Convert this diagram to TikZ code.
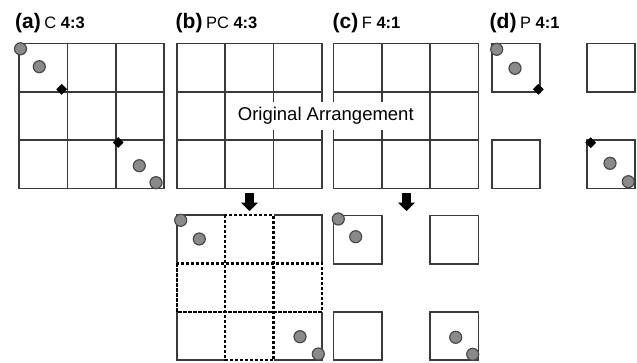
\documentclass[tikz,border=0pt]{standalone}
\usepackage{fontspec}
\setmainfont{Liberation Sans}
\usetikzlibrary{arrows.meta,shapes.geometric}
\definecolor{linegray}{HTML}{3A3A3A}
\definecolor{dotgray}{HTML}{8A8A8A}
\definecolor{dotedge}{HTML}{4A4A4A}
\begin{document}
\begin{tikzpicture}[x=1pt,y=-1pt,
  gridline/.style={draw=linegray, line width=1.6pt},
  dashline/.style={draw=black, line width=2.3pt, dash pattern=on 3.2pt off 1.8pt},
  dot/.style={circle, fill=dotgray, draw=dotedge, line width=1.2pt, minimum size=12pt, inner sep=0pt},
  gem/.style={diamond, fill=black, minimum size=11pt, inner sep=0pt},
  panel/.style={anchor=base west, inner sep=0pt},
  blockarrow/.style={line width=9.5pt, -{Triangle[width=17pt,length=8.5pt]}}
]
\useasboundingbox (0,0) rectangle (637,362);
\def\cs{48.4}
% three-by-three grid with top-left corner at (#1,#2)
\newcommand\cellgrid[2]{%
  \foreach \k in {0,1,2,3}{%
    \draw[gridline] ({#1+\k*\cs},#2) -- ({#1+\k*\cs},{#2+3*\cs});
    \draw[gridline] (#1,{#2+\k*\cs}) -- ({#1+3*\cs},{#2+\k*\cs});
  }}
% single square cell with top-left corner at (#1,#2)
\newcommand\onecell[2]{\draw[gridline] (#1,#2) rectangle ({#1+\cs},{#2+\cs});}

% panel titles
\node[panel] (ta) at (15,28) {\fontsize{21}{21}\selectfont\bfseries (a)\,\fontsize{16.5}{16.5}\selectfont\mdseries C \bfseries 4:3};
\node[panel] (tb) at (175.5,28) {\fontsize{21}{21}\selectfont\bfseries (b)\,\fontsize{16.5}{16.5}\selectfont\mdseries PC \bfseries 4:3};
\node[panel] (tc) at (332.5,28) {\fontsize{21}{21}\selectfont\bfseries (c)\,\fontsize{16.5}{16.5}\selectfont\mdseries F \bfseries 4:1};
\node[panel] (td) at (489.5,28) {\fontsize{21}{21}\selectfont\bfseries (d)\,\fontsize{16.5}{16.5}\selectfont\mdseries P \bfseries 4:1};

% (a) contiguous
\cellgrid{19}{43.3}
\node[dot] (a1) at (20.5,48.8) {};
\node[dot] (a2) at (39.3,66.7) {};
\node[gem] (a3) at (61.7,89.3) {};
\node[gem] (a4) at (118.3,142.5) {};
\node[dot] (a5) at (139.3,165.7) {};
\node[dot] (a6) at (156,182.7) {};

% (b) and (c) original arrangements
\cellgrid{176.7}{43.3}
\cellgrid{333.3}{43.3}
\node[fill=white, inner xsep=2pt, inner ysep=5pt, font=\fontsize{18.5}{18.5}\selectfont] (orig) at (325.8,116) {Original Arrangement};

% (d) separated cells
\onecell{491.7}{43.3}
\onecell{586.7}{43.3}
\onecell{491.7}{140}
\onecell{586.7}{140}
\node[dot] (d1) at (496.7,49.3) {};
\node[dot] (d2) at (515,68.3) {};
\node[gem] (d3) at (538.3,89.3) {};
\node[gem] (d4) at (590.7,142.7) {};
\node[dot] (d5) at (610,163.3) {};
\node[dot] (d6) at (628.3,181.7) {};

% arrows to the rearranged layouts
\coordinate (bs) at (249.5,192.5);
\coordinate (be) at (249.5,211);
\coordinate (cs) at (406.5,192.5);
\coordinate (ce) at (406.5,211);
\draw[blockarrow] (bs) -- (be);
\draw[blockarrow] (cs) -- (ce);

% (b) rearranged: outer edges of the corner cells solid, middle cross dashed
\draw[gridline] (225.1,215) -- (176.7,215) -- (176.7,263.4);
\draw[gridline] (273.5,215) -- (321.9,215) -- (321.9,263.4);
\draw[gridline] (176.7,311.8) -- (176.7,360.2) -- (225.1,360.2);
\draw[gridline] (273.5,360.2) -- (321.9,360.2) -- (321.9,311.8);
\draw[dashline] (176.7,263.4) rectangle (321.9,311.8);
\draw[dashline] (225.1,215) rectangle (273.5,360.2);
\node[dot] (b1) at (180.7,220.3) {};
\node[dot] (b2) at (199.3,239) {};
\node[dot] (b3) at (300,336.7) {};
\node[dot] (b4) at (318.3,354) {};

% (c) rearranged: four separated cells
\onecell{333.3}{215.5}
\onecell{430}{215.5}
\onecell{333.3}{311.8}
\onecell{430}{311.8}
\node[dot] (c1) at (338.3,219) {};
\node[dot] (c2) at (355.7,236.7) {};
\node[dot] (c3) at (455.7,337.3) {};
\node[dot] (c4) at (472.7,354.3) {};
\end{tikzpicture}
\end{document}
